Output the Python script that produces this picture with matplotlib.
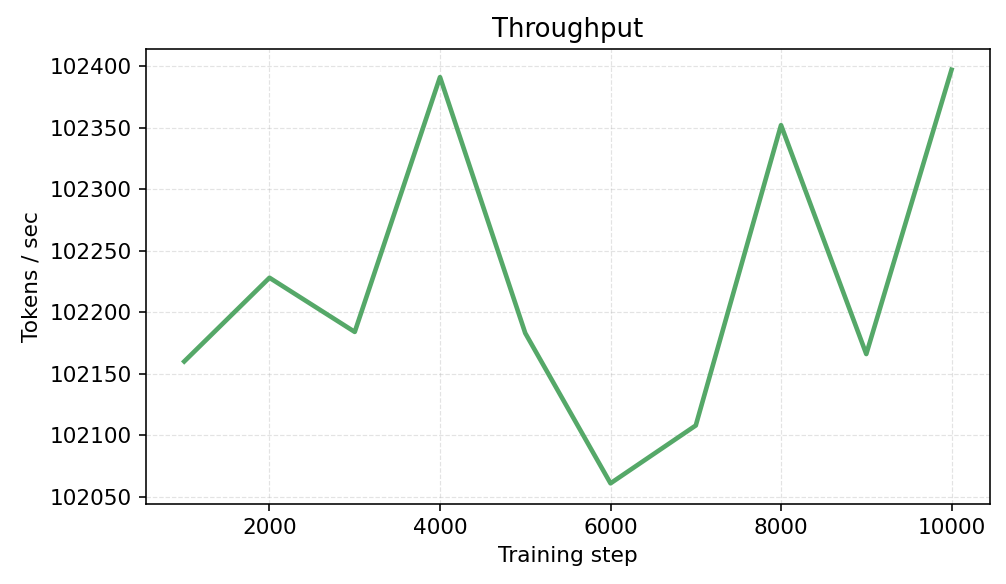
import numpy as np
import matplotlib.pyplot as plt

steps = [1000, 2000, 3000, 4000, 5000, 6000, 7000, 8000, 9000, 10000]
tokens_per_sec = [102160, 102228, 102184, 102391, 102183, 102061, 102108, 102352, 102166, 102397]

fig = plt.figure(figsize=(1006 / 144, 584 / 144), dpi=144)
ax = fig.add_axes([0.145, 0.137, 0.839, 0.779])
ax.plot(steps, tokens_per_sec, color="#55a868", linewidth=2.3)
ax.set_title("Throughput", fontsize=13)
ax.set_xlabel("Training step", fontsize=10.8)
ax.set_ylabel("Tokens / sec", fontsize=10.8)
ax.tick_params(labelsize=10.8)
ax.grid(True, linestyle="--", linewidth=0.6, alpha=0.35)
ax.ticklabel_format(axis="y", useOffset=False, style="plain")
ax.set_xticks([2000, 4000, 6000, 8000, 10000])
ax.set_yticks(np.arange(102050, 102401, 50))

fig.savefig("out.png", dpi=144)
